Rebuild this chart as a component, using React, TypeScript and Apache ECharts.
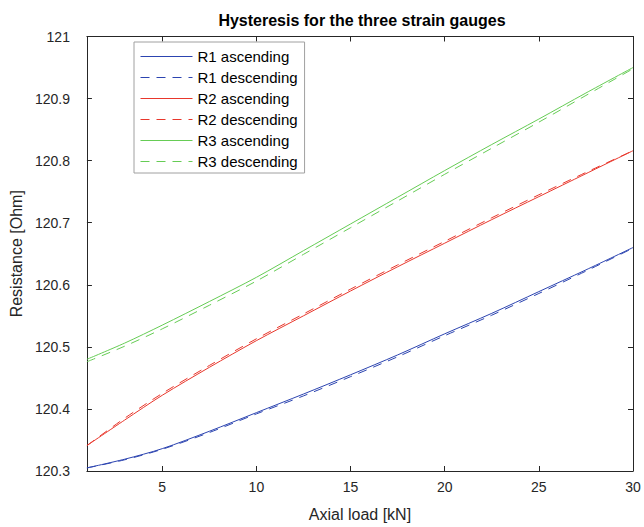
import React, { useEffect, useRef } from "react";
import * as echarts from "echarts";

const loads = [1, 3, 5, 7.5, 10, 12.5, 15, 17.5, 20, 22.5, 25, 27.5, 30];
const r1Asc = [120.305, 120.319, 120.336, 120.364, 120.394, 120.424, 120.455, 120.487, 120.521, 120.554, 120.589, 120.624, 120.66];
const r1Desc = [120.305, 120.318, 120.335, 120.362, 120.392, 120.421, 120.452, 120.484, 120.518, 120.551, 120.586, 120.622, 120.659];
const r2Asc = [120.341, 120.382, 120.422, 120.467, 120.51, 120.55, 120.59, 120.629, 120.667, 120.705, 120.742, 120.779, 120.816];
const r2Desc = [120.341, 120.385, 120.425, 120.47, 120.513, 120.553, 120.593, 120.632, 120.67, 120.708, 120.745, 120.781, 120.816];
const r3Asc = [120.48, 120.506, 120.535, 120.573, 120.612, 120.655, 120.698, 120.741, 120.784, 120.826, 120.867, 120.909, 120.95];
const r3Desc = [120.476, 120.501, 120.529, 120.567, 120.606, 120.649, 120.692, 120.735, 120.778, 120.82, 120.862, 120.905, 120.948];

const xTicks = [5, 10, 15, 20, 25, 30];
const yTicks = [120.3, 120.4, 120.5, 120.6, 120.7, 120.8, 120.9, 121];

const seriesNames = ["R1 ascending", "R1 descending", "R2 ascending", "R2 descending", "R3 ascending", "R3 descending"];

const BLUE = "#2c44b0";
const RED = "#e8372c";
const GREEN = "#66cc55";
const AX = "#262626";
const FONT = "'Liberation Sans', Arial, sans-serif";

export default function App() {
  const ref = useRef<HTMLDivElement>(null);
  useEffect(() => {
    if (!ref.current) return;
    const chart = echarts.init(ref.current, undefined, { renderer: "svg" });
    const all = [r1Asc, r1Desc, r2Asc, r2Desc, r3Asc, r3Desc];
    const colors = [BLUE, BLUE, RED, RED, GREEN, GREEN];
    const series = all.map((vals, i) => ({
      name: seriesNames[i],
      type: "line",
      data: loads.map((x, j) => [x, vals[j]]),
      showSymbol: false,
      symbol: "none",
      smooth: 0.3,
      xAxisIndex: 0,
      yAxisIndex: 0,
      lineStyle: { color: colors[i], width: 1, type: i % 2 === 1 ? [9, 7] : "solid" },
      itemStyle: { color: colors[i] },
      z: i % 2 === 1 ? 3 : 2,
    }));
    const tickStyle = { show: true, inside: true, length: 5, lineStyle: { color: AX, width: 1 } };
    chart.setOption({
      animation: false,
      backgroundColor: "#ffffff",
      textStyle: { fontFamily: FONT },
      title: {
        text: "Hysteresis for the three strain gauges",
        left: 357,
        textAlign: "center",
        top: 7,
        textStyle: { fontSize: 16, fontWeight: "bold", color: "#000", fontFamily: FONT },
      },
      legend: {
        orient: "vertical",
        left: 134,
        top: 42,
        padding: [7, 7, 4, 6],
        itemWidth: 52,
        itemHeight: 14,
        itemGap: 6,
        data: seriesNames,
        backgroundColor: "#ffffff",
        borderColor: "#a0a0a0",
        borderWidth: 1,
        borderRadius: 0,
        itemStyle: { opacity: 0 },
        lineStyle: { width: 1 },
        textStyle: { fontSize: 15, color: "#000", fontFamily: FONT },
      },
      grid: { left: 82, right: 11, top: 36.5, bottom: 56, containLabel: false },
      xAxis: [
        {
          type: "value",
          min: 1,
          max: 30,
          name: "Axial load [kN]",
          nameLocation: "middle",
          nameGap: 35,
          nameTextStyle: { fontSize: 16, color: AX, fontFamily: FONT },
          axisLine: { show: true, lineStyle: { color: AX, width: 1 } },
          axisTick: { ...tickStyle, customValues: xTicks },
          axisLabel: { customValues: xTicks, fontSize: 14, color: AX, margin: 9, fontFamily: FONT },
          splitLine: { show: false },
        },
        {
          type: "value",
          position: "top",
          min: 1,
          max: 30,
          axisLine: { show: true, lineStyle: { color: AX, width: 1 } },
          axisTick: { ...tickStyle, customValues: xTicks },
          axisLabel: { show: false, customValues: xTicks },
          splitLine: { show: false },
        },
      ],
      yAxis: [
        {
          type: "value",
          min: 120.3,
          max: 121,
          name: "Resistance [Ohm]",
          nameLocation: "middle",
          nameGap: 58,
          nameTextStyle: { fontSize: 16, color: AX, fontFamily: FONT },
          axisLine: { show: true, lineStyle: { color: AX, width: 1 } },
          axisTick: { ...tickStyle, customValues: yTicks },
          axisLabel: { customValues: yTicks, fontSize: 14, color: AX, margin: 17, fontFamily: FONT },
          splitLine: { show: false },
        },
        {
          type: "value",
          position: "right",
          min: 120.3,
          max: 121,
          axisLine: { show: true, lineStyle: { color: AX, width: 1 } },
          axisTick: { ...tickStyle, customValues: yTicks },
          axisLabel: { show: false, customValues: yTicks },
          splitLine: { show: false },
        },
      ],
      series,
    });
    return () => chart.dispose();
  }, []);
  return <div ref={ref} style={{ position: "absolute", left: 0, top: 0, width: 644, height: 527 }} />;
}
